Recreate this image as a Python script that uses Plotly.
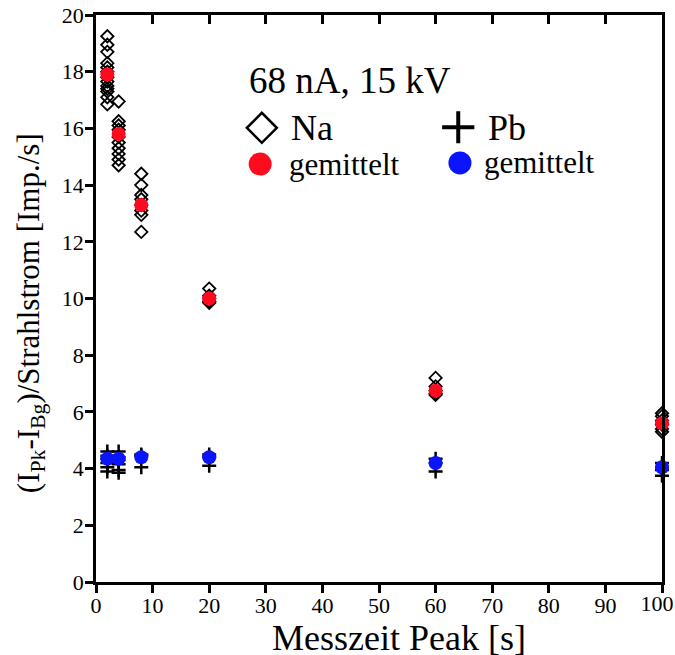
import plotly.graph_objects as go

# ---- data ----
na_x = [2]*13 + [4]*10 + [8]*8 + [20]*5 + [60]*5 + [100]*6
na_y = [19.25, 18.95, 18.7, 18.3, 18.15, 18.0, 17.8, 17.65, 17.5, 17.4, 17.3, 17.1, 16.85,
        16.95, 16.25, 16.1, 15.95, 15.7, 15.5, 15.3, 15.1, 14.9, 14.7,
        14.4, 14.0, 13.65, 13.5, 13.3, 13.1, 12.95, 12.35,
        10.35, 10.1, 10.0, 9.9, 9.85,
        7.2, 6.9, 6.75, 6.65, 6.6,
        5.95, 5.85, 5.7, 5.55, 5.4, 5.3]
pb_x = [2]*6 + [4]*6 + [8]*3 + [20]*3 + [60]*3 + [100]*4
pb_y = [4.6, 4.45, 4.35, 4.2, 4.05, 3.9,
        4.6, 4.4, 4.3, 4.15, 3.95, 3.85,
        4.5, 4.45, 4.05,
        4.5, 4.4, 4.1,
        4.35, 4.2, 3.9,
        4.2, 4.05, 3.95, 3.75]
mean_x = [2, 4, 8, 20, 60, 100]
na_mean = [17.9, 15.8, 13.3, 10.0, 6.75, 5.6]
pb_mean = [4.35, 4.35, 4.4, 4.4, 4.2, 4.05]
x_ticks = [0, 10, 20, 30, 40, 50, 60, 70, 80, 90, 100]
x_labels = ["0", "10", "20", "30", "40", "50", "60", "70", "80", "90", "100"]
y_ticks = [0, 2, 4, 6, 8, 10, 12, 14, 16, 18, 20]

FONT = "Liberation Serif, Times New Roman, serif"
RED = "#ff0a1e"
BLUE = "#0a14ff"

fig = go.Figure()
fig.add_trace(go.Scatter(x=pb_x, y=pb_y, mode="markers", cliponaxis=False,
                         marker=dict(symbol="cross-thin-open", size=10, color="black",
                                     line=dict(color="black", width=2.5))))
fig.add_trace(go.Scatter(x=na_x, y=na_y, mode="markers", cliponaxis=False,
                         marker=dict(symbol="diamond-open", size=9.5, color="black",
                                     line=dict(color="black", width=1.8))))
fig.add_trace(go.Scatter(x=mean_x, y=na_mean, mode="markers", cliponaxis=False,
                         marker=dict(symbol="circle", size=14, color=RED, line=dict(width=0))))
fig.add_trace(go.Scatter(x=mean_x, y=pb_mean, mode="markers", cliponaxis=False,
                         marker=dict(symbol="circle", size=14, color=BLUE, line=dict(width=0))))

# legend symbols on an overlay axis (0..1)
leg_x = [0.293, 0.640, 0.290, 0.643]
leg_y = [0.801, 0.802, 0.737, 0.739]
fig.add_trace(go.Scatter(x=[leg_x[0]], y=[leg_y[0]], xaxis="x3", yaxis="y3", mode="markers",
                         cliponaxis=False,
                         marker=dict(symbol="diamond-open", size=23, color="black",
                                     line=dict(color="black", width=2.5))))
fig.add_trace(go.Scatter(x=[leg_x[1]], y=[leg_y[1]], xaxis="x3", yaxis="y3", mode="markers",
                         cliponaxis=False,
                         marker=dict(symbol="cross-thin-open", size=23, color="black",
                                     line=dict(color="black", width=4))))
fig.add_trace(go.Scatter(x=[leg_x[2]], y=[leg_y[2]], xaxis="x3", yaxis="y3", mode="markers",
                         cliponaxis=False,
                         marker=dict(symbol="circle", size=23, color=RED, line=dict(width=0))))
fig.add_trace(go.Scatter(x=[leg_x[3]], y=[leg_y[3]], xaxis="x3", yaxis="y3", mode="markers",
                         cliponaxis=False,
                         marker=dict(symbol="circle", size=23, color=BLUE, line=dict(width=0))))

tickfont = dict(family=FONT, size=22, color="black")
fig.update_layout(
    width=675, height=655,
    margin=dict(l=96, r=13, t=15, b=73, autoexpand=False),
    paper_bgcolor="white", plot_bgcolor="white",
    showlegend=False,
    font=dict(family=FONT, color="black"),
    xaxis=dict(range=[0, 100], tickvals=x_ticks, ticktext=x_labels[:-1] + [""],
               ticks="outside", ticklen=8, tickwidth=2.5,
               tickcolor="black", showline=True, linecolor="black", linewidth=2.5,
               showgrid=False, zeroline=False, tickfont=tickfont, mirror=True,
               ticklabeloverflow="allow", ticklabelstandoff=-6, automargin=False),
    xaxis2=dict(range=[0, 100], tickvals=x_ticks[1:-1], ticks="inside", ticklen=9, tickwidth=2.5,
                tickcolor="black", overlaying="x", side="top", showticklabels=False,
                showline=False, showgrid=False, zeroline=False, automargin=False),
    xaxis4=dict(range=[0, 100], tickvals=x_ticks[-1:], ticktext=x_labels[-1:], ticks="outside",
                ticklen=8, tickwidth=0, tickcolor="rgba(0,0,0,0)",
                overlaying="x", side="bottom", showline=False, showgrid=False,
                zeroline=False, tickfont=tickfont, ticklabeloverflow="allow",
                ticklabelstandoff=-6, ticklabelshift=-5, automargin=False),
    yaxis=dict(range=[0, 20], tickvals=y_ticks, ticks="outside", ticklen=8, tickwidth=2.5,
               tickcolor="black", showline=True, linecolor="black", linewidth=2.5,
               showgrid=False, zeroline=False, tickfont=tickfont, mirror=True,
               ticklabeloverflow="allow", ticklabelstandoff=-3, automargin=False),
    xaxis3=dict(range=[0, 1], overlaying="x", visible=False, anchor="y3"),
    yaxis3=dict(range=[0, 1], overlaying="y", visible=False, anchor="x3"),
)
# dummy traces to activate overlay axes
fig.add_trace(go.Scatter(x=[None], y=[None], xaxis="x2", mode="markers", hoverinfo="skip"))
fig.add_trace(go.Scatter(x=[None], y=[None], xaxis="x4", mode="markers", hoverinfo="skip"))

big = dict(family=FONT, size=37, color="black")
xt = dict(family=FONT, size=36, color="black")
leg = dict(family=FONT, size=36, color="black")
mid = dict(family=FONT, size=31, color="black")
ytit = dict(family=FONT, size=31, color="black")
ann = [
    dict(text="68 nA, 15 kV", x=0.267, y=0.885, font=big, xanchor="left"),
    dict(text="Na", x=0.341, y=0.801, font=leg, xanchor="left"),
    dict(text="Pb", x=0.689, y=0.801, font=leg, xanchor="left"),
    dict(text="gemittelt", x=0.337, y=0.737, font=mid, xanchor="left"),
    dict(text="gemittelt", x=0.682, y=0.739, font=mid, xanchor="left"),
    dict(text="Messzeit Peak [s]", x=0.535, y=-0.098, font=xt, xanchor="center"),
    dict(text="(I<sub>Pk</sub>-I<sub>Bg</sub>)/Strahlstrom [Imp./s]", x=-0.115, y=0.474,
         font=ytit, xanchor="center", textangle=-90),
]
for a in ann:
    fig.add_annotation(xref="paper", yref="paper", showarrow=False, yanchor="middle", **a)

fig.write_html("out.html")
